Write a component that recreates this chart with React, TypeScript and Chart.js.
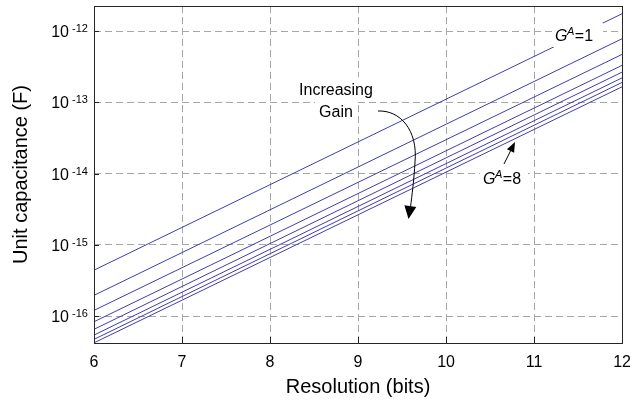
import React, { useEffect, useRef } from 'react';
import { Chart, registerables } from 'chart.js';

Chart.register(...registerables);

// Resolution (bits) at the two ends of each line
const resolutionBits = [6, 12];

// Unit capacitance (F) for each gain G^A = 1..8, read at 6 and 12 bits
const capG1 = [4.4e-16, 1.75e-12];
const capG2 = [1.95e-16, 7.8e-13];
const capG3 = [1.2e-16, 4.7e-13];
const capG4 = [8.3e-17, 3.3e-13];
const capG5 = [6.5e-17, 2.65e-13];
const capG6 = [5.4e-17, 2.2e-13];
const capG7 = [4.7e-17, 1.9e-13];
const capG8 = [4.2e-17, 1.65e-13];
const gainNames = ['G=1', 'G=2', 'G=3', 'G=4', 'G=5', 'G=6', 'G=7', 'G=8'];
const allCaps = [capG1, capG2, capG3, capG4, capG5, capG6, capG7, capG8];

const xTickValues = [6, 7, 8, 9, 10, 11, 12];
const yDecadeExponents = [-16, -15, -14, -13, -12];
const yMin = 4.18e-17;
const yMax = 2.245e-12;

const xTitle = 'Resolution (bits)';
const yTitle = 'Unit capacitance (F)';
const gainTopLabel = '=1';
const gainBottomLabel = '=8';
const increasingLine1 = 'Increasing';
const increasingLine2 = 'Gain';

const FONT = "Arial, 'Liberation Sans', Helvetica, sans-serif";
const LINE_COLOR = 'rgb(62,62,172)';

function drawGLabel(ctx: CanvasRenderingContext2D, x: number, baseline: number, suffix: string) {
  ctx.textAlign = 'left';
  ctx.textBaseline = 'alphabetic';
  ctx.fillStyle = '#000';
  ctx.font = `italic 16px ${FONT}`;
  ctx.fillText('G', x, baseline);
  const w1 = ctx.measureText('G').width;
  ctx.font = `italic 11px ${FONT}`;
  ctx.fillText('A', x + w1 - 0.5, baseline - 6);
  const w2 = ctx.measureText('A').width;
  ctx.font = `16px ${FONT}`;
  ctx.fillText(suffix, x + w1 + w2, baseline);
}

function arrowHead(ctx: CanvasRenderingContext2D, tipX: number, tipY: number, fromX: number, fromY: number, len: number, half: number) {
  const dx = tipX - fromX;
  const dy = tipY - fromY;
  const d = Math.hypot(dx, dy);
  const ux = dx / d;
  const uy = dy / d;
  const bx = tipX - ux * len;
  const by = tipY - uy * len;
  ctx.beginPath();
  ctx.moveTo(tipX, tipY);
  ctx.lineTo(bx - uy * half, by + ux * half);
  ctx.lineTo(bx + uy * half, by - ux * half);
  ctx.closePath();
  ctx.fill();
  return [bx, by];
}

const decorPlugin = {
  id: 'decor',
  afterDatasetsDraw(chart: any) {
    const { ctx, chartArea: a, scales } = chart;
    const ys = scales.y;
    const xs = scales.x;
    ctx.save();

    // inner tick marks
    ctx.strokeStyle = '#222';
    ctx.lineWidth = 1;
    ctx.setLineDash([]);
    ctx.beginPath();
    yDecadeExponents.forEach((e) => {
      const py = Math.round(ys.getPixelForValue(Math.pow(10, e))) + 0.5;
      ctx.moveTo(a.left, py);
      ctx.lineTo(a.left + 5, py);
    });
    xTickValues.forEach((v) => {
      const px = Math.round(xs.getPixelForValue(v)) + 0.5;
      ctx.moveTo(px, a.bottom);
      ctx.lineTo(px, a.bottom - 6);
    });
    ctx.stroke();

    // frame
    ctx.strokeStyle = '#262626';
    ctx.strokeRect(Math.round(a.left) + 0.5, Math.round(a.top) + 0.5, Math.round(a.right - a.left), Math.round(a.bottom - a.top));

    // y tick labels with superscript exponents
    ctx.fillStyle = '#000';
    yDecadeExponents.forEach((e) => {
      const py = ys.getPixelForValue(Math.pow(10, e));
      ctx.textBaseline = 'alphabetic';
      ctx.font = `16px ${FONT}`;
      ctx.textAlign = 'right';
      ctx.fillText('10', a.left - 25, py + 6);
      ctx.font = `11px ${FONT}`;
      ctx.textAlign = 'left';
      ctx.fillText(String(e), a.left - 22, py + 1);
    });

    // label boxes
    ctx.fillStyle = '#fff';
    ctx.fillRect(553, 23, 50, 24);
    ctx.fillRect(480, 166, 48, 24);
    ctx.fillRect(293, 77, 85, 25);
    ctx.fillRect(315, 102, 42, 19);

    drawGLabel(ctx, 555, 41, gainTopLabel);
    drawGLabel(ctx, 483, 184, gainBottomLabel);

    ctx.fillStyle = '#000';
    ctx.font = `16px ${FONT}`;
    ctx.textAlign = 'center';
    ctx.textBaseline = 'alphabetic';
    ctx.fillText(increasingLine1, 336, 95);
    ctx.fillText(increasingLine2, 336, 117);

    // curved arrow
    ctx.strokeStyle = '#000';
    ctx.fillStyle = '#000';
    ctx.lineWidth = 1;
    ctx.beginPath();
    ctx.moveTo(378, 111);
    ctx.bezierCurveTo(400, 110, 418, 130, 415, 162);
    ctx.bezierCurveTo(414, 180, 412, 195, 410.5, 207);
    ctx.stroke();
    arrowHead(ctx, 408.5, 219, 410.5, 205, 13, 6);

    // short arrow
    const [bx, by] = arrowHead(ctx, 515, 142, 504, 164, 10, 4);
    ctx.beginPath();
    ctx.moveTo(504, 164);
    ctx.lineTo(bx, by);
    ctx.stroke();

    ctx.restore();
  },
};

export default function App() {
  const ref = useRef<HTMLCanvasElement | null>(null);

  useEffect(() => {
    document.body.style.margin = '0';
    const canvas = ref.current;
    if (!canvas) return;
    const datasets = allCaps.map((caps, i) => ({
      label: gainNames[i],
      data: resolutionBits.map((b, j) => ({ x: b, y: caps[j] })),
      borderColor: LINE_COLOR,
      backgroundColor: LINE_COLOR,
      borderWidth: 1,
      pointRadius: 0,
      fill: false,
      tension: 0,
    }));
    const chart = new Chart(canvas, {
      type: 'line',
      data: { datasets },
      options: {
        responsive: false,
        animation: false,
        devicePixelRatio: 1,
        layout: { padding: { top: 6, right: 14, left: 0, bottom: 0 } },
        plugins: { legend: { display: false }, tooltip: { enabled: false } },
        scales: {
          x: {
            type: 'linear',
            min: 6,
            max: 12,
            afterBuildTicks: (s: any) => {
              s.ticks = xTickValues.map((v) => ({ value: v }));
            },
            afterFit: (s: any) => {
              s.height = 64;
            },
            ticks: {
              font: { family: FONT, size: 16 },
              color: '#000',
              padding: 10,
              callback: (v: any) => String(v),
              maxRotation: 0,
            },
            grid: { color: '#a6a6a6', lineWidth: 1, drawTicks: false },
            border: { display: false, dash: [7, 4] },
            title: {
              display: true,
              text: xTitle,
              font: { family: FONT, size: 20 },
              color: '#000',
              padding: { top: 0, bottom: 8 },
            },
          },
          y: {
            type: 'logarithmic',
            min: yMin,
            max: yMax,
            afterBuildTicks: (s: any) => {
              s.ticks = yDecadeExponents.map((e) => ({ value: Math.pow(10, e) }));
            },
            afterFit: (s: any) => {
              s.width = 94;
            },
            ticks: { display: false },
            grid: { color: '#a6a6a6', lineWidth: 1, drawTicks: false },
            border: { display: false, dash: [7, 4] },
            title: {
              display: true,
              text: yTitle,
              font: { family: FONT, size: 20 },
              color: '#000',
              padding: { top: 9, bottom: 0 },
            },
          },
        },
      },
      plugins: [decorPlugin],
    } as any);
    return () => chart.destroy();
  }, []);

  return (
    <div style={{ width: 641, height: 407 }}>
      <canvas ref={ref} width={641} height={407} />
    </div>
  );
}
